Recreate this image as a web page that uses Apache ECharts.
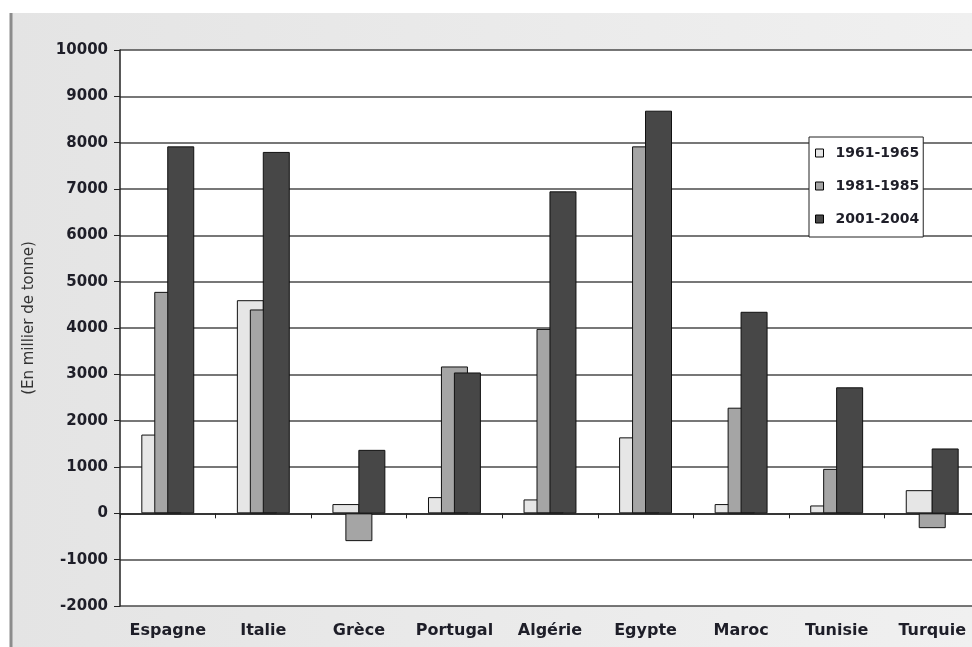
<!DOCTYPE html>
<html>
<head>
<meta charset="utf-8">
<script src="https://cdn.jsdelivr.net/npm/echarts@6/dist/echarts.min.js"></script>
<style>
  html, body { margin: 0; padding: 0; background: #ffffff; }
  #chart { width: 972px; height: 647px; }
</style>
</head>
<body>
<div id="chart"></div>
<script>
// Countries along the x axis
const categories = ['Espagne', 'Italie', 'Grèce', 'Portugal', 'Algérie', 'Egypte', 'Maroc', 'Tunisie', 'Turquie'];

// Series names (periods)
const periods = ['1961-1965', '1981-1985', '2001-2004'];

// Values in thousand tonnes, one array per period
const values1961 = [1700, 4600, 200, 350, 300, 1640, 200, 170, 500];
const values1981 = [4780, 4400, -600, 3170, 3980, 7920, 2280, 960, -320];
const values2001 = [7920, 7800, 1370, 3040, 6950, 8690, 4350, 2720, 1400];

// Y axis ticks
const yMin = -2000;
const yMax = 10000;
const yStep = 1000;

const axisTitle = '(En millier de tonne)';

const fills = ['#e6e6e6', '#a5a5a5', '#474747'];
const seriesValues = [values1961, values1981, values2001];

const textColor = '#1e1e28';
const font = '"DejaVu Sans", "Liberation Sans", Arial, sans-serif';

const chart = echarts.init(document.getElementById('chart'), null, { renderer: 'canvas' });

chart.setOption({
  animation: false,
  backgroundColor: '#ffffff',
  graphic: [
    {
      type: 'rect',
      z: -10,
      silent: true,
      shape: { x: 11, y: 13, width: 961, height: 634 },
      style: {
        fill: new echarts.graphic.LinearGradient(0, 0, 1, 0, [
          { offset: 0, color: '#e4e4e4' },
          { offset: 1, color: '#f0f0f0' }
        ])
      }
    },
    {
      type: 'line',
      z: -9,
      silent: true,
      shape: { x1: 11, y1: 13, x2: 11, y2: 647 },
      style: { stroke: '#8c8c8c', lineWidth: 3 }
    },
    {
      type: 'text',
      x: 29,
      y: 318,
      rotation: Math.PI / 2,
      style: {
        text: axisTitle,
        font: 'normal 15px ' + font,
        fill: '#333333',
        align: 'center',
        verticalAlign: 'middle'
      }
    }
  ],
  grid: {
    left: 120,
    top: 50,
    width: 860,
    height: 556,
    outerBoundsMode: 'none',
    containLabel: false,
    show: true,
    backgroundColor: '#ffffff',
    borderWidth: 0
  },
  legend: {
    orient: 'vertical',
    left: 809,
    top: 137,
    backgroundColor: '#ffffff',
    borderColor: '#222222',
    borderWidth: 1,
    padding: [9, 4, 11, 6],
    itemWidth: 8,
    itemHeight: 8,
    itemGap: 19,
    icon: 'rect',
    itemStyle: { borderColor: '#000000', borderWidth: 1 },
    textStyle: {
      fontFamily: font,
      fontWeight: 'bold',
      fontSize: 14,
      lineHeight: 14,
      color: textColor,
      padding: [0, 0, 0, 7]
    },
    data: periods
  },
  xAxis: [
    {
      // category names along the bottom edge
      type: 'category',
      data: categories,
      position: 'bottom',
      axisLine: { show: false, onZero: false },
      axisTick: { show: false },
      axisLabel: {
        margin: 17,
        fontFamily: font,
        fontWeight: 'bold',
        fontSize: 16,
        color: textColor,
        interval: 0
      },
      splitLine: { show: false }
    },
    {
      // baseline at zero with category boundary ticks
      type: 'category',
      data: categories,
      position: 'bottom',
      axisLine: { show: true, onZero: true, lineStyle: { color: '#222222', width: 1.5 } },
      axisTick: { show: true, length: 5, lineStyle: { color: '#222222', width: 1 } },
      axisLabel: { show: false },
      splitLine: { show: false }
    }
  ],
  yAxis: {
    type: 'value',
    min: yMin,
    max: yMax,
    interval: yStep,
    axisLine: { show: true, lineStyle: { color: '#222222', width: 1.5 } },
    axisTick: { show: true, length: 6, lineStyle: { color: '#222222', width: 1 } },
    axisLabel: {
      margin: 12,
      fontFamily: font,
      fontWeight: 'bold',
      fontSize: 15,
      color: textColor,
      formatter: (v) => String(v)
    },
    splitLine: { show: true, lineStyle: { color: '#4a4a4a', width: 1.6 } }
  },
  series: periods.map((name, i) => ({
    name: name,
    type: 'bar',
    xAxisIndex: 0,
    data: seriesValues[i],
    barWidth: 27,
    barGap: '-52%',
    itemStyle: { color: fills[i], borderColor: '#111111', borderWidth: 1 }
  }))
});
</script>
</body>
</html>
